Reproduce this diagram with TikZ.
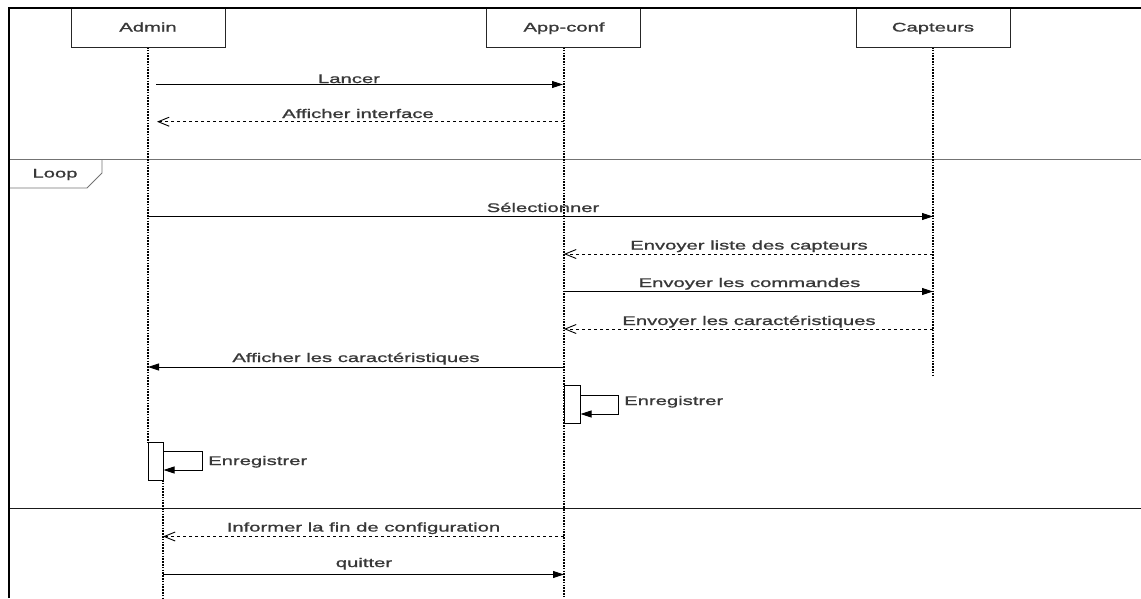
\documentclass[tikz,border=0pt]{standalone}
\usepackage{fontspec}
\setmainfont{Liberation Sans}[FakeStretch=1.62,FakeBold=1.3]
\usetikzlibrary{arrows.meta}
\begin{document}
\begin{tikzpicture}[x=1pt,y=-1pt,
  txt/.style={font=\fontsize{12.5}{14}\selectfont, text=black!78, inner sep=0pt, anchor=base},
  actor/.style={draw=black!85, line width=1.3pt, fill=white, minimum width=154pt, minimum height=39pt, inner sep=0pt},
  life/.style={line width=1.1pt, dash pattern=on 1.5pt off 1.3pt},
  msg/.style={line width=0.9pt, -{Triangle[length=11pt,width=7pt]}},
  ret/.style={line width=0.9pt, dash pattern=on 3pt off 3pt, -{Straight Barb[length=11pt,width=9pt]}},
  actbox/.style={draw, line width=1pt, fill=white},
  selfmsg/.style={line width=0.9pt, -{Triangle[length=11pt,width=7pt]}}
]
\useasboundingbox (0,0) rectangle (1141,598);
% frames
\draw[line width=0.8pt, black!55] (9,159.5) -- (1141,159.5);
\draw[line width=0.8pt, black!55] (9,188) -- (87,188) -- (102,173) -- (102,159.5);
\node[txt] (looplbl) at (55,177.5) {Loop};
\draw[line width=1pt, black!90] (9,508.5) -- (1141,508.5);
% lifelines
\draw[life] (148,47) -- (148,442);
\draw[life] (163,480) -- (163,598);
\draw[life] (564,47) -- (564,598);
\draw[life] (933,47) -- (933,377);
% actors
\node[actor] (admin) at (148.3,28) {};
\node[actor] (app) at (563.8,28) {};
\node[actor] (capt) at (933.3,28) {};
\node[txt] at (148,31.5) {Admin};
\node[txt] at (564,31.5) {App-conf};
\node[txt] at (933,31.5) {Capteurs};
% outer border
\draw[line width=2pt] (9,598) -- (9,8) -- (1141,8);
% coordinates on lifelines
\coordinate (a1) at (156,84.5);  \coordinate (p1) at (563,84.5);
\coordinate (a2) at (157,121.7); \coordinate (p2) at (564,121.7);
\coordinate (a3) at (148,216.5); \coordinate (c3) at (933,216.5);
\coordinate (p4) at (564,254);   \coordinate (c4) at (933,254);
\coordinate (p5) at (564,291.5); \coordinate (c5) at (933,291.5);
\coordinate (p6) at (564,329);   \coordinate (c6) at (933,329);
\coordinate (a7) at (148,367);   \coordinate (p7) at (564,367);
\coordinate (a8) at (163,536.5); \coordinate (p8) at (564,536.5);
\coordinate (a9) at (163,574.5); \coordinate (p9) at (564,574.5);
% messages
\draw[msg] (a1) -- (p1);
\node[txt] (l1) at (349,83) {Lancer};
\draw[ret] (p2) -- (a2);
\node[txt] (l2) at (358,118) {Afficher interface};
\draw[msg] (a3) -- (c3);
\node[txt] (l3) at (543,212) {Sélectionner};
\draw[ret] (c4) -- (p4);
\node[txt] (l4) at (749,249.5) {Envoyer liste des capteurs};
\draw[msg] (p5) -- (c5);
\node[txt] (l5) at (749.5,287) {Envoyer les commandes};
\draw[ret] (c6) -- (p6);
\node[txt] (l6) at (749,325) {Envoyer les caractéristiques};
\draw[msg] (p7) -- (a7);
\node[txt] (l7) at (356,362) {Afficher les caractéristiques};
\draw[ret] (p8) -- (a8);
\node[txt] (l8) at (363.5,531.5) {Informer la fin de configuration};
\draw[msg] (a9) -- (p9);
\node[txt] (l9) at (364,567) {quitter};
% activations
\node[actbox, minimum width=16pt, minimum height=38pt, inner sep=0pt] (actp) at (572,404) {};
\draw[selfmsg] (actp.east |- 0,395) -- (618,395) -- (618,414) -- (actp.east |- 0,414);
\node[txt, anchor=base west] (e1) at (624,405) {Enregistrer};
\node[actbox, minimum width=15pt, minimum height=38pt, inner sep=0pt] (acta) at (155.5,461) {};
\draw[selfmsg] (acta.east |- 0,451) -- (202,451) -- (202,470) -- (acta.east |- 0,470);
\node[txt, anchor=base west] (e2) at (208,465) {Enregistrer};
\end{tikzpicture}
\end{document}
